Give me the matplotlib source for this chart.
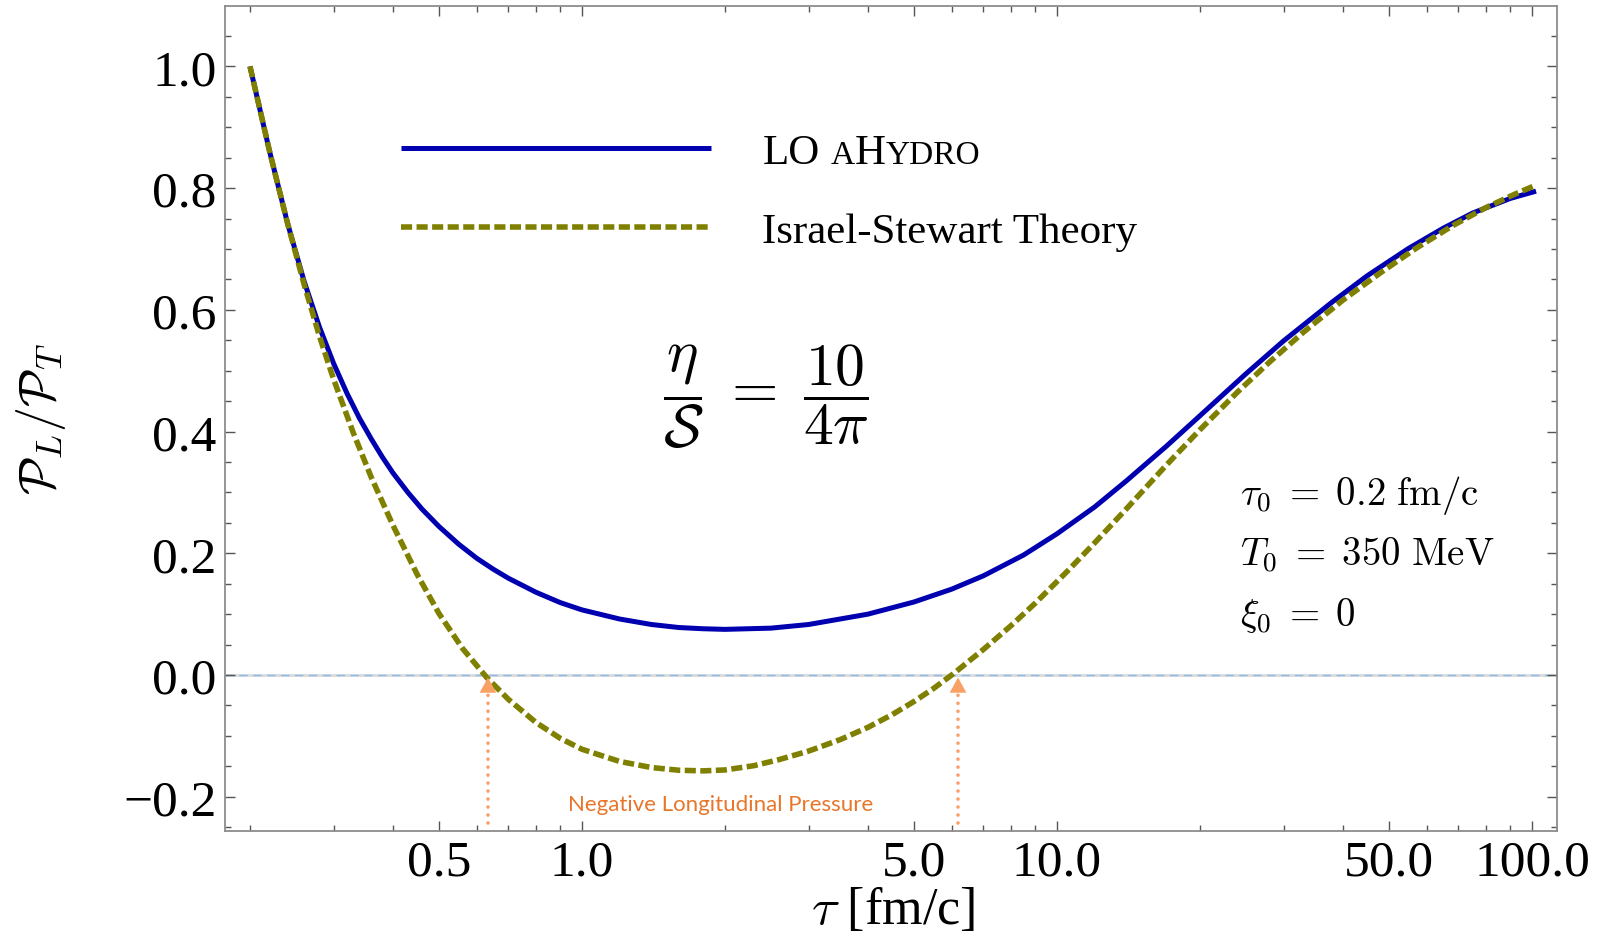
import numpy as np
import matplotlib
matplotlib.use("Agg")
import matplotlib.pyplot as plt
from matplotlib.ticker import FixedLocator, FixedFormatter, NullFormatter

# P_L / P_T versus proper time, eta/s = 10/(4 pi)
tau_ahydro = [0.20, 0.22, 0.24, 0.26, 0.28, 0.30, 0.32, 0.34, 0.36, 0.38, 0.40,
              0.43, 0.46, 0.50, 0.55, 0.60, 0.65, 0.70, 0.80, 0.90, 1.0, 1.2,
              1.4, 1.6, 1.8, 2.0, 2.5, 3.0, 4.0, 5.0, 6.0, 7.0, 8.5, 10.0, 12.0,
              14.0, 17.0, 20.0, 25.0, 30.0, 38.0, 45.0, 55.0, 65.0, 75.0, 90.0,
              102.0]
plpt_ahydro = [1.000, 0.860, 0.742, 0.647, 0.572, 0.512, 0.463, 0.422, 0.388,
               0.358, 0.332, 0.300, 0.273, 0.244, 0.215, 0.192, 0.174, 0.159,
               0.136, 0.119, 0.107, 0.092, 0.083, 0.078, 0.076, 0.075, 0.077,
               0.083, 0.100, 0.120, 0.141, 0.163, 0.197, 0.232, 0.276, 0.319,
               0.376, 0.426, 0.495, 0.549, 0.613, 0.656, 0.701, 0.734, 0.759,
               0.783, 0.795]

tau_is = [0.20, 0.22, 0.24, 0.26, 0.28, 0.30, 0.33, 0.36, 0.40, 0.45, 0.50,
          0.56, 0.63, 0.70, 0.80, 0.90, 1.0, 1.2, 1.4, 1.6, 1.8, 2.0, 2.3, 2.6,
          3.0, 3.5, 4.0, 4.5, 5.0, 5.5, 6.05, 7.0, 8.0, 9.0, 10.5, 12.0, 14.0,
          17.0, 20.0, 24.0, 28.0, 33.0, 40.0, 48.0, 57.0, 68.0, 80.0, 92.0,
          102.0]
plpt_is = [1.000, 0.860, 0.742, 0.642, 0.557, 0.486, 0.398, 0.325, 0.246,
           0.165, 0.101, 0.044, -0.004, -0.040, -0.078, -0.104, -0.122,
           -0.142, -0.152, -0.1565, -0.1575, -0.156, -0.149, -0.139, -0.125,
           -0.106, -0.086, -0.065, -0.0435, -0.022, 0.002, 0.042, 0.081, 0.118,
           0.170, 0.217, 0.273, 0.345, 0.403, 0.465, 0.514, 0.563, 0.616,
           0.661, 0.701, 0.738, 0.768, 0.790, 0.805]

# proper times where the IS result changes sign
tau_zero = [0.634, 6.19]
arrow_foot = -0.243

x_major = [0.5, 1.0, 5.0, 10.0, 50.0, 100.0]
x_major_labels = ["0.5", "1.0", "5.0", "10.0", "50.0", "100.0"]
x_minor = [0.2, 0.3, 0.4, 0.6, 0.7, 0.8, 0.9, 2, 3, 4, 6, 7, 8, 9,
           20, 30, 40, 60, 70, 80, 90]
y_major = [-0.2, 0.0, 0.2, 0.4, 0.6, 0.8, 1.0]
y_major_labels = ["\u22120.2", "0.0", "0.2", "0.4", "0.6", "0.8", "1.0"]
y_minor = [-0.25, -0.15, -0.1, -0.05, 0.05, 0.1, 0.15, 0.25, 0.3, 0.35, 0.45, 0.5,
           0.55, 0.65, 0.7, 0.75, 0.85, 0.9, 0.95, 1.05]

plt.rcParams["font.family"] = ["Liberation Serif", "DejaVu Serif"]
plt.rcParams["mathtext.fontset"] = "cm"

W, H = 1601, 937
fig = plt.figure(figsize=(W / 100, H / 100), dpi=100)
ax = fig.add_axes([225 / W, 1 - 832 / H, (1557 - 225) / W, (832 - 7) / H])

ax.set_xscale("log")
ax.set_xlim(0.1772, 112.9)
ax.set_ylim(-0.2563, 1.0992)

# zero line: grey axis with a light blue dashed guide on top
ax.axhline(0, color="#dcdcdc", lw=2.2, zorder=1)
ax.axhline(0, color="#8dbcea", lw=1.0, dashes=(6, 4), zorder=1.5)

ax.plot(tau_ahydro, plpt_ahydro, color="#0000b0", lw=3.6, zorder=3,
        solid_capstyle="butt", solid_joinstyle="round", label="LO")
ax.plot(tau_is, plpt_is, color="#808000", lw=4.0, zorder=4,
        linestyle=(0, (2.0, 0.8)), dash_capstyle="butt",
        label="Israel-Stewart Theory")

# dotted arrows marking the region of negative longitudinal pressure
arrow_col = "#f9a064"
for t in tau_zero:
    ax.plot([t, t], [arrow_foot, -0.02], color=arrow_col, lw=2.6,
            linestyle=(0, (0.01, 2.2)), dash_capstyle="round", zorder=5)
    ax.annotate("", xy=(t, -0.004), xytext=(t, -0.03),
                arrowprops=dict(arrowstyle="-|>,head_length=0.55,head_width=0.3",
                                mutation_scale=20, color=arrow_col, lw=0,
                                shrinkA=0, shrinkB=0),
                zorder=5)

ax.text(1.96, -0.212, "Negative Longitudinal Pressure", color="#e8762a",
        fontsize=16, family=["Lato", "DejaVu Sans"], ha="center", va="center")

# axes frame and ticks
for s in ax.spines.values():
    s.set_color("#8c8c8c")
    s.set_linewidth(1.3)
ax.xaxis.set_major_locator(FixedLocator(x_major))
ax.xaxis.set_major_formatter(FixedFormatter(x_major_labels))
ax.xaxis.set_minor_locator(FixedLocator(x_minor))
ax.xaxis.set_minor_formatter(NullFormatter())
ax.yaxis.set_major_locator(FixedLocator(y_major))
ax.yaxis.set_major_formatter(FixedFormatter(y_major_labels))
ax.yaxis.set_minor_locator(FixedLocator(y_minor))
ax.tick_params(which="both", direction="in", top=True, right=True,
               color="#555555", labelsize=37)
ax.tick_params(which="major", length=7, width=1.0, pad=6)
ax.tick_params(which="minor", length=4.5, width=1.0)

leg = ax.legend(loc="upper left", bbox_to_anchor=(0.132, 0.846), frameon=False,
                fontsize=31, handlelength=7.2, handletextpad=1.2,
                labelspacing=0.93, borderpad=0, borderaxespad=0)

# small caps for "aHydro" chained after the "LO" legend label
t0 = leg.get_texts()[0]
prev = t0
for piece, fs, dx in [("A", 24, 7.8), ("H", 31, 0), ("YDRO", 24, 0)]:
    dy = 0.217 * (31 - fs)
    prev = ax.annotate(piece, xy=(1, 0), xycoords=(prev, t0), xytext=(dx, dy),
                       textcoords="offset points", ha="left", va="bottom",
                       fontsize=fs, zorder=6, annotation_clip=False)

fig.text(766 / W, 1 - 397 / H,
         r"$\dfrac{\eta}{\mathcal{S}}\;=\;\dfrac{10}{4\pi}$",
         fontsize=43, ha="center", va="center")

params = [r"$\tau_0 \;=\; 0.2\ \mathrm{fm/c}$",
          r"$T_0 \;=\; 350\ \mathrm{MeV}$",
          r"$\xi_0 \;=\; 0$"]
for i, p in enumerate(params):
    fig.text(1240 / W, 1 - (505 + 61 * i) / H, p, fontsize=28,
             ha="left", va="baseline")

fig.text(41 / W, 1 - 419 / H, r"$\mathcal{P}_L/\mathcal{P}_T$", fontsize=36,
         rotation=90, ha="center", va="center")
fig.text(893 / W, 1 - 886 / H, r"$\tau$ [fm/c]", fontsize=37.5,
         ha="center", va="top")

fig.savefig("out.png", dpi=100)
